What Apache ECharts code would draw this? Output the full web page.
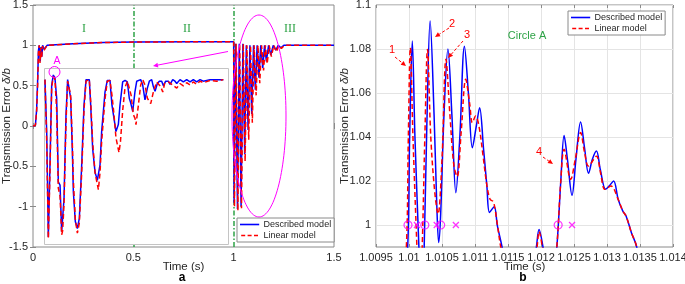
<!DOCTYPE html>
<html>
<head>
<meta charset="utf-8">
<script src="https://cdn.jsdelivr.net/npm/echarts@6/dist/echarts.min.js"></script>
<style>
html, body { margin: 0; padding: 0; background: #fff; }
#chart { width: 685px; height: 284px; }
</style>
</head>
<body>
<div id="chart"></div>
<script>
// ---- values ----
var seriesNames = ['Described model', 'Linear model'];
var regionLines = [0.5, 1];   // green dash-dot lines in (a), s

// (a) whole run: [time s, δ/b]
var fullDescribed = [
  [0, 0], [0.012, 0.01], [0.018, 0.2], [0.023, 0.55], [0.027, 0.93], [0.031, 1.0],
  [0.036, 0.8], [0.04, 0.98], [0.044, 0.86], [0.048, 1.0], [0.055, 0.95], [0.07, 1.0],
  [0.2, 1.02], [0.35, 1.035], [0.5, 1.04], [0.8, 1.045], [1.0, 1.045],
  [1.002, -0.95], [1.01, 1.02], [1.019, -1.03], [1.028, 1.02], [1.037, -1.0], [1.046, 1.02],
  [1.055, -0.35], [1.063, 1.0], [1.072, -0.05], [1.081, 1.0], [1.09, 0.15], [1.099, 1.0],
  [1.108, 0.45], [1.117, 1.0], [1.126, 0.6], [1.135, 1.0], [1.145, 0.72], [1.154, 1.0],
  [1.163, 0.8], [1.174, 1.0], [1.185, 0.88], [1.197, 1.0], [1.21, 0.94], [1.222, 1.0],
  [1.235, 0.97], [1.25, 1.0], [1.5, 1.0]
];
var fullLinear = [
  [0, 0], [0.012, 0.01], [0.018, 0.18], [0.023, 0.5], [0.027, 0.9], [0.031, 1.0],
  [0.035, 0.78], [0.039, 0.97], [0.043, 0.84], [0.047, 0.99], [0.053, 0.93], [0.07, 1.0],
  [0.2, 1.02], [0.35, 1.035], [0.5, 1.04], [0.8, 1.045], [1.0, 1.045],
  [1.004, -1.0], [1.012, 1.02], [1.021, -1.05], [1.03, 1.02], [1.039, -1.02], [1.048, 1.02],
  [1.057, -0.44], [1.066, 1.0], [1.075, -0.17], [1.084, 1.0], [1.093, 0.04], [1.102, 1.0],
  [1.112, 0.38], [1.121, 1.0], [1.13, 0.53], [1.139, 1.0], [1.149, 0.69], [1.158, 1.0],
  [1.167, 0.77], [1.177, 1.0], [1.188, 0.86], [1.2, 1.0], [1.213, 0.92], [1.225, 1.0],
  [1.238, 0.96], [1.252, 1.0], [1.5, 1.0]
];

// inset (region III magnified): [ms after 1 s, δ/b]
var insetDescribed = [
  [1.2, 1.0], [3.3, 0.33], [5.3, -1.03], [7.3, -0.1], [9.4, 0.93], [11.4, 1.06], [13.4, 1.02],
  [15.5, 0.76], [17.5, -0.32], [19.6, -0.36], [21.6, -0.96], [22.8, -0.98], [24.5, -0.53],
  [26.9, 0.54], [28.9, 1.0], [31, 1.0], [32.6, 0.76], [34.6, 0.11], [35.9, -0.45], [38.3, -0.83],
  [40.8, -0.92], [43.2, -0.79], [46.1, -0.1], [48.9, 0.67], [51.4, 1.0], [55.4, 1.0], [57.1, 0.67],
  [59.5, 0.11], [62.4, -0.19], [65.2, -0.3], [68.5, -0.1], [70.5, 0.33], [74.6, 0.84], [77.4, 0.99],
  [80.7, 0.99], [83.1, 0.67], [85.6, 0.5], [88, 0.33], [90.9, 0.42], [92.9, 0.67], [96.2, 0.97],
  [99.1, 0.99], [101.9, 0.97], [104.3, 0.76], [106, 0.7], [108.5, 0.59], [111.3, 0.85], [113.4, 0.98],
  [118.2, 1.0], [120.7, 0.93], [123.5, 0.74], [126.4, 0.89], [128.8, 0.98], [131.7, 1.0], [133.7, 0.91],
  [135.8, 0.85], [138.6, 0.95], [141.1, 0.98], [143.9, 0.98], [146, 0.92], [148.8, 0.98], [152.1, 0.98],
  [154.1, 0.94], [157.4, 1.0], [160.2, 0.98], [162.3, 0.95], [166.3, 1.0], [170.4, 0.97], [174.5, 1.0],
  [178.6, 0.97], [182.6, 1.0], [186.7, 0.97], [190.8, 1.0], [194.9, 0.98], [203, 1.0], [211.2, 1.0],
  [219.3, 1.0]
];
var insetLinear = [
  [1.2, 1.0], [3.3, 0.2], [5.3, -1.05], [7.3, -0.2], [9.4, 0.9], [11.4, 1.04], [13.4, 1.0],
  [15.5, 0.6], [17.5, -0.4], [19.6, -0.5], [21.6, -1.0], [22.8, -0.95], [24.5, -0.6], [26.9, 0.45],
  [28.9, 0.98], [31, 1.0], [32.6, 0.8], [34.6, 0.2], [35.9, -0.3], [38.3, -0.8], [40.8, -0.98],
  [43.2, -0.85], [46.1, -0.2], [48.9, 0.6], [51.4, 0.98], [55.4, 1.0], [57.1, 0.72], [59.5, 0.2],
  [62.4, -0.2], [65.2, -0.35], [66.5, -0.42], [68.5, -0.2], [70.5, 0.2], [74.6, 0.75], [77.4, 0.98],
  [80.7, 0.99], [83.1, 0.8], [85.6, 0.55], [88, 0.25], [91.7, 0.06], [93.5, 0.2], [96.2, 0.6],
  [99.1, 0.9], [102, 0.98], [104.3, 0.99], [106.5, 0.8], [109.2, 0.55], [111.3, 0.5], [112.5, 0.42],
  [115.4, 0.67], [118.2, 0.93], [120.7, 1.0], [123.5, 0.93], [126.4, 0.76], [130.5, 0.69],
  [133.7, 0.84], [137.8, 0.97], [140, 0.98], [142.7, 0.91], [145.2, 0.84], [147.5, 0.95], [152.1, 0.97],
  [157.4, 0.93], [162.3, 0.89], [166.3, 0.95], [170.4, 0.92], [174.5, 0.96], [178.6, 0.93],
  [182.6, 0.97], [186.7, 0.94], [190.8, 0.98], [194.9, 0.96], [203, 0.99], [211.2, 0.98], [219.3, 1.0]
];

// (b) circle A: [time s, δ/b]
var zoomDescribed = [
  [1.00988, 0.95], [1.00998, 0.99], [1.01001, 1.04], [1.01005, 1.0836], [1.01009, 1.04], [1.01015, 0.99],
  [1.01019, 0.96], [1.01023, 0.99], [1.01027, 1.045], [1.01032, 1.0927], [1.01038, 1.05], [1.01042, 1.01],
  [1.01045, 0.992], [1.01048, 1.005], [1.01053, 1.05], [1.01059, 1.08], [1.01065, 1.05], [1.01071, 1.0147],
  [1.01077, 1.04], [1.01084, 1.0813], [1.0109, 1.06], [1.01096, 1.0351], [1.01102, 1.045], [1.01107, 1.0533],
  [1.01113, 1.0344], [1.01118, 1.0177], [1.01122, 1.0057], [1.01129, 1.0083], [1.01134, 0.9995],
  [1.01141, 0.99], [1.0115, 0.975], [1.01185, 0.975], [1.01193, 0.99], [1.01197, 0.998], [1.01203, 0.99],
  [1.0121, 0.975], [1.01218, 0.975], [1.01224, 0.99], [1.0123, 1.02], [1.01235, 1.0407], [1.0124, 1.03],
  [1.01247, 1.0135], [1.01253, 1.03], [1.0126, 1.0468], [1.01266, 1.035], [1.01272, 1.0235],
  [1.01278, 1.03], [1.01284, 1.0336], [1.0129, 1.025], [1.01298, 1.0162], [1.01304, 1.018], [1.0131, 1.02],
  [1.01317, 1.0116], [1.01324, 1.0063], [1.01329, 1.004], [1.01337, 0.9965], [1.01345, 0.99], [1.01355, 0.97]
];
var zoomLinear = [
  [1.00986, 0.95], [1.00996, 0.99], [1.00999, 1.04], [1.01002, 1.0806], [1.01006, 1.04], [1.01012, 0.99],
  [1.01016, 0.96], [1.0102, 0.99], [1.01024, 1.04], [1.01028, 1.0798], [1.01033, 1.04], [1.01039, 1.015],
  [1.01044, 1.005], [1.0105, 1.03], [1.01056, 1.0753], [1.01062, 1.05], [1.01068, 1.027], [1.01073, 1.022],
  [1.01079, 1.042], [1.01086, 1.0662], [1.01092, 1.055], [1.01096, 1.0465], [1.01101, 1.0495],
  [1.01106, 1.045], [1.01112, 1.032], [1.01118, 1.018], [1.01123, 1.0116], [1.01128, 1.0105],
  [1.01133, 1.002], [1.01139, 0.99], [1.0115, 0.975], [1.01185, 0.975], [1.01194, 0.99], [1.01197, 0.997],
  [1.01202, 0.99], [1.0121, 0.975], [1.01218, 0.975], [1.01224, 0.99], [1.0123, 1.02], [1.01235, 1.0344],
  [1.01245, 1.0207], [1.01252, 1.03], [1.0126, 1.042], [1.01266, 1.033], [1.01272, 1.0268],
  [1.01284, 1.0313], [1.0129, 1.024], [1.01297, 1.0162], [1.01306, 1.0177], [1.01317, 1.0116],
  [1.01324, 1.0063], [1.01329, 1.004], [1.01337, 0.9965], [1.01345, 0.99], [1.01355, 0.97]
];
var markCircles = [1.009985, 1.01024, 1.01048, 1.01226];   // at δ/b = 1
var markCrosses = [1.01012, 1.01042, 1.01071, 1.01247];

// ---- chart ----
var FONT = '"Liberation Sans", Arial, sans-serif';
var AXIS_COLOR = '#8a8a8a';
var TEXT_COLOR = '#262626';
var BLUE = '#0000ff', RED = '#ff0000', GREEN = '#2fa347', MAGENTA = '#ff00ff';

function fmt(d) {
  return function (v) { return String(parseFloat(v.toFixed(d))); };
}

// little arrow for the annotations (line + filled head)
function arrow(x1, y1, x2, y2, color, dash) {
  var a = Math.atan2(y2 - y1, x2 - x1), L = 5, W = 2.4;
  var bx = x2 - L * Math.cos(a), by = y2 - L * Math.sin(a);
  return [
    { type: 'line', z: 20, shape: { x1: x1, y1: y1, x2: bx, y2: by },
      style: { stroke: color, lineWidth: 1, lineDash: dash || null } },
    { type: 'polygon', z: 20,
      shape: { points: [[x2, y2], [bx - W * Math.sin(a), by + W * Math.cos(a)], [bx + W * Math.sin(a), by - W * Math.cos(a)]] },
      style: { fill: color } }
  ];
}
function label(x, y, text, color, size, family, weight) {
  return { type: 'text', x: x, y: y, z: 20,
    style: { text: text, fill: color, fontSize: size, fontFamily: family || FONT, fontWeight: weight || 'normal',
             align: 'center', verticalAlign: 'middle' } };
}

var tick = { inside: true, length: 3, lineStyle: { color: AXIS_COLOR } };
var tickLabel = { fontSize: 11, color: TEXT_COLOR, fontFamily: FONT, margin: 5 };
var axisName = { fontSize: 11.5, color: TEXT_COLOR, fontFamily: FONT };
var yName = { fontSize: 11.5, color: TEXT_COLOR, fontFamily: FONT,
  rich: { i: { fontSize: 11.5, fontStyle: 'italic', color: TEXT_COLOR, fontFamily: FONT } } };

function lineSeries(name, data, xi, yi, color, dashed, extra) {
  var s = {
    name: name, type: 'line', xAxisIndex: xi, yAxisIndex: yi, data: data,
    symbol: 'none', showSymbol: false, animation: false,
    lineStyle: { color: color, width: 1.5, type: dashed ? [5, 3] : 'solid' },
    itemStyle: { color: color }
  };
  for (var k in extra) s[k] = extra[k];
  return s;
}

var chart = echarts.init(document.getElementById('chart'));
var legendBase = {
  data: [
    { name: seriesNames[0], icon: 'path://M0,0H24V2H0Z' },
    { name: seriesNames[1], icon: 'path://M0,0H5V2H0Z M8,0H13V2H8Z M16,0H21V2H16Z' }
  ],
  orient: 'vertical', backgroundColor: '#fff', borderColor: AXIS_COLOR, borderWidth: 1,
  padding: [1, 3, 1, 3], itemGap: 0, itemWidth: 22, itemHeight: 1.6, z: 30,
  textStyle: { fontSize: 9, color: TEXT_COLOR, fontFamily: FONT, lineHeight: 11, padding: [0, 0, 0, -2] }
};

var graphics = [
  // white box of the inset, above the main curves and the green line
  { type: 'rect', z: 4, shape: { x: 44.5, y: 68.5, width: 184, height: 176 },
    style: { fill: '#fff', stroke: '#c4c4c4', lineWidth: 1 } },
  label(84, 29, 'I', GREEN, 12, '"Liberation Serif", serif'),
  label(187, 29, 'II', GREEN, 12, '"Liberation Serif", serif'),
  label(290, 29, 'III', GREEN, 12, '"Liberation Serif", serif'),
  { type: 'ellipse', z: 20, shape: { cx: 259, cy: 116, rx: 27, ry: 101 },
    style: { fill: 'none', stroke: MAGENTA, lineWidth: 1 } },
  { type: 'circle', z: 20, shape: { cx: 54.5, cy: 72, r: 5.5 },
    style: { fill: 'none', stroke: MAGENTA, lineWidth: 1 } },
  label(57, 61, 'A', MAGENTA, 10.5),
  label(527, 36, 'Circle A', GREEN, 11),
  label(392, 50, '1', RED, 11),
  label(452, 24, '2', RED, 11),
  label(467, 35, '3', RED, 11),
  label(539, 152, '4', RED, 11),
  label(182, 278, 'a', '#000', 12, FONT, 'bold'),
  label(523, 278, 'b', '#000', 12, FONT, 'bold')
].concat(
  arrow(228, 51.5, 153, 66, MAGENTA),
  arrow(395, 57, 406, 66, RED, [3, 2]),
  arrow(449, 28, 435, 37, RED, [3, 2]),
  arrow(463, 41, 448, 58, RED, [3, 2]),
  arrow(543, 157, 553, 164, RED, [3, 2])
);

var option = {
  animation: false,
  backgroundColor: '#fff',
  grid: [
    { left: 33, top: 5, width: 301, height: 242, show: true, borderColor: AXIS_COLOR, borderWidth: 1,
      outerBoundsMode: 'none', containLabel: false },
    { left: 376, top: 5, width: 297, height: 242, show: true, borderColor: AXIS_COLOR, borderWidth: 1,
      outerBoundsMode: 'none', containLabel: false },
    { left: 44, top: 68, width: 184, height: 176, show: false, outerBoundsMode: 'none', containLabel: false }
  ],
  xAxis: [
    { gridIndex: 0, type: 'value', min: 0, max: 1.5, interval: 0.5, position: 'bottom',
      axisLine: { show: false }, axisTick: tick, axisLabel: tickLabel, splitLine: { show: false },
      name: 'Time (s)', nameLocation: 'middle', nameGap: 14, nameMoveOverlap: false, nameTextStyle: axisName },
    { gridIndex: 0, type: 'value', min: 0, max: 1.5, interval: 0.5, position: 'top',
      axisLine: { show: false }, axisTick: tick, axisLabel: { show: false }, splitLine: { show: false } },
    { gridIndex: 1, type: 'value', min: 1.0095, max: 1.014, interval: 0.0005, position: 'bottom',
      axisLine: { show: false }, axisTick: tick,
      axisLabel: Object.assign({}, tickLabel, { formatter: fmt(4) }),
      splitLine: { show: true, lineStyle: { color: '#e4e4e4', width: 1 } },
      name: 'Time (s)', nameLocation: 'middle', nameGap: 14, nameMoveOverlap: false, nameTextStyle: axisName },
    { gridIndex: 1, type: 'value', min: 1.0095, max: 1.014, interval: 0.0005, position: 'top',
      axisLine: { show: false }, axisTick: tick, axisLabel: { show: false }, splitLine: { show: false } },
    { gridIndex: 2, type: 'value', min: 0, max: 225, show: false }
  ],
  yAxis: [
    { gridIndex: 0, type: 'value', min: -1.5, max: 1.5, interval: 0.5, position: 'left',
      axisLine: { show: false }, axisTick: tick, axisLabel: tickLabel, splitLine: { show: false },
      name: 'Transmission Error {i|δ/b}', nameLocation: 'middle', nameGap: 20, nameMoveOverlap: false,
      nameTextStyle: yName },
    { gridIndex: 0, type: 'value', min: -1.5, max: 1.5, interval: 0.5, position: 'right',
      axisLine: { show: false }, axisTick: tick, axisLabel: { show: false }, splitLine: { show: false } },
    { gridIndex: 1, type: 'value', min: 0.99, max: 1.1, interval: 0.01, position: 'left',
      axisLine: { show: false }, axisTick: { show: false },
      axisLabel: Object.assign({}, tickLabel, {
        formatter: function (v) { return Math.round(v * 100) % 2 === 0 ? fmt(2)(v) : ''; } }),
      splitLine: { show: true, lineStyle: { color: ['rgba(0,0,0,0)', '#e4e4e4'], width: 1 } },
      name: 'Transmission Error {i|δ/b}', nameLocation: 'middle', nameGap: 25, nameMoveOverlap: false,
      nameTextStyle: yName },
    { gridIndex: 2, type: 'value', min: -1.12, max: 1.15, show: false }
  ],
  legend: [
    Object.assign({}, legendBase, { left: 237, top: 218 }),
    Object.assign({}, legendBase, { left: 568, top: 11 })
  ],
  graphic: { elements: graphics },
  series: [
    lineSeries(seriesNames[0], fullDescribed, 0, 0, BLUE, false, {
      markLine: {
        z: 2, silent: true, symbol: 'none', label: { show: false }, animation: false,
        lineStyle: { color: GREEN, width: 1.5, opacity: 1, type: [5, 2, 1.5, 2] },
        emphasis: { disabled: true },
        data: regionLines.map(function (t) {
          return { xAxis: t, lineStyle: { color: GREEN, width: 1.5, type: [5, 2, 1.5, 2] } };
        })
      }
    }),
    lineSeries(seriesNames[1], fullLinear, 0, 0, RED, true),
    lineSeries(seriesNames[0], insetDescribed, 4, 3, BLUE, false, { z: 6 }),
    lineSeries(seriesNames[1], insetLinear, 4, 3, RED, true, { z: 6 }),
    lineSeries(seriesNames[0], zoomDescribed, 2, 2, BLUE, false, { smooth: 0.35 }),
    lineSeries(seriesNames[1], zoomLinear, 2, 2, RED, true, { smooth: 0.35 }),
    { type: 'scatter', xAxisIndex: 2, yAxisIndex: 2, z: 6, silent: true,
      data: markCircles.map(function (t) { return [t, 1]; }),
      symbol: 'circle', symbolSize: 8,
      itemStyle: { color: 'rgba(0,0,0,0)', borderColor: MAGENTA, borderWidth: 1.2 } },
    { type: 'scatter', xAxisIndex: 2, yAxisIndex: 2, z: 6, silent: true,
      data: markCrosses.map(function (t) { return [t, 1]; }),
      symbol: 'path://M0 0L10 10M10 0L0 10', symbolSize: 6,
      itemStyle: { color: 'rgba(0,0,0,0)', borderColor: MAGENTA, borderWidth: 1.3 } }
  ]
};
chart.setOption(option);
</script>
</body>
</html>
